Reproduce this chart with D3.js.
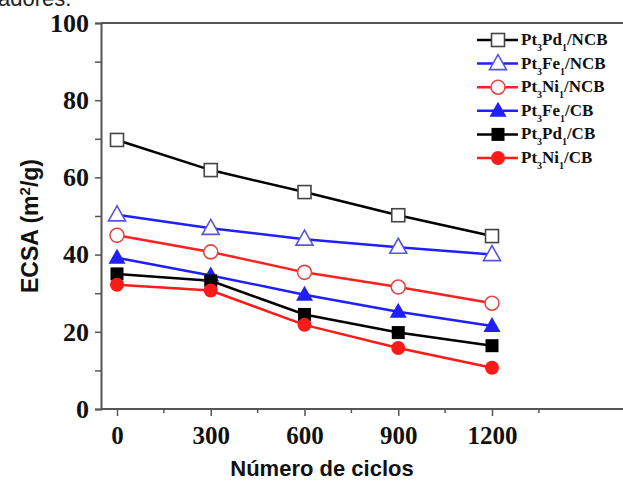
<!DOCTYPE html>
<html><head><meta charset="utf-8">
<script src="https://cdn.jsdelivr.net/npm/d3@7"></script>
<style>html,body{margin:0;padding:0;background:#fff;}svg{display:block;}</style>
</head><body>
<script>
const cycles = [0, 300, 600, 900, 1200];
const seriesNames = ["Pt3Pd1/NCB","Pt3Fe1/NCB","Pt3Ni1/NCB","Pt3Fe1/CB","Pt3Pd1/CB","Pt3Ni1/CB"];
const pd_ncb = [69.7, 61.9, 56.2, 50.2, 44.8];
const fe_ncb = [50.3, 46.8, 44.0, 41.9, 40.0];
const ni_ncb = [45.0, 40.7, 35.4, 31.6, 27.4];
const fe_cb  = [39.2, 34.6, 29.6, 25.2, 21.5];
const pd_cb  = [35.0, 33.2, 24.5, 19.8, 16.4];
const ni_cb  = [32.2, 30.7, 21.8, 15.8, 10.7];
const yTicks = [0, 20, 40, 60, 80, 100];
const xTicks = [0, 300, 600, 900, 1200];

const W = 623, H = 484;
const svg = d3.select("body").append("svg").attr("width", W).attr("height", H);

// partial document text at top
svg.append("text").attr("x", -2).attr("y", 6).attr("font-family","Liberation Sans, Arial, sans-serif")
  .attr("font-size", 22).attr("fill","#222").text("adores.");

const x = d3.scaleLinear().domain([-51.2, 1619.2]).range([101, 623]);
const y = d3.scaleLinear().domain([0, 100]).range([409, 23]);

const axisColor = "#555";
svg.append("line").attr("x1", x.range()[0]).attr("x2", W).attr("y1", y(100)).attr("y2", y(100))
  .attr("stroke", axisColor).attr("stroke-width", 2);

// Y axis
const yAxis = d3.axisLeft(y).tickValues(d3.range(0, 101, 10)).tickSize(6).tickFormat(d => yTicks.includes(d) ? d : "");
const gy = svg.append("g").attr("transform", `translate(${x.range()[0]},0)`).call(yAxis);
gy.select(".domain").attr("stroke", axisColor).attr("stroke-width", 2);
gy.selectAll(".tick line").attr("stroke", axisColor).attr("stroke-width", 1.5);
gy.selectAll(".tick text").attr("font-family","Liberation Serif, Times New Roman, serif").attr("font-weight","bold")
  .attr("font-size", 26).attr("fill","#111").attr("x", -12);

// X axis
const minorX = [150, 450, 750, 1050, 1350];
const xAxis = d3.axisBottom(x).tickValues(xTicks).tickSize(7).tickFormat(d3.format("d"));
const gx = svg.append("g").attr("transform", `translate(0,${y(0)})`).call(xAxis);
gx.select(".domain").attr("d", `M${x.range()[0]},0H${W}`).attr("stroke", axisColor).attr("stroke-width", 2);
gx.selectAll(".tick line").attr("stroke", axisColor).attr("stroke-width", 1.5);
gx.selectAll(".tick text").attr("font-family","Liberation Serif, Times New Roman, serif").attr("font-weight","bold")
  .attr("font-size", 25).attr("fill","#111").attr("y", 17);
gx.selectAll(".minor").data(minorX).enter().append("line").attr("class","minor")
  .attr("x1", d => x(d)).attr("x2", d => x(d)).attr("y1", 0).attr("y2", 4)
  .attr("stroke", axisColor).attr("stroke-width", 1.5);

// Axis titles
svg.append("text").attr("x", 322).attr("y", 476).attr("text-anchor","middle")
  .attr("font-family","Liberation Sans, Arial, sans-serif").attr("font-weight","bold").attr("font-size", 22)
  .attr("fill","#111").text("Número de ciclos");
const yt = svg.append("text").attr("transform","translate(38,226) rotate(-90)").attr("text-anchor","middle")
  .attr("font-family","Liberation Sans, Arial, sans-serif").attr("font-weight","bold").attr("font-size", 23)
  .attr("fill","#111");
yt.append("tspan").text("ECSA (m");
yt.append("tspan").attr("font-size", 15).attr("dy", -8).text("2");
yt.append("tspan").attr("dy", 8).text("/g)");

const series = [
  {name: seriesNames[0], values: pd_ncb, color:"#000", shape:"square", fill:false, stroke:"#444"},
  {name: seriesNames[1], values: fe_ncb, color:"#1f1fff", shape:"triangle", fill:false, stroke:"#5555dd"},
  {name: seriesNames[2], values: ni_ncb, color:"#ff2020", shape:"circle", fill:false, stroke:"#e04848"},
  {name: seriesNames[3], values: fe_cb, color:"#1f1fff", shape:"triangle", fill:true},
  {name: seriesNames[4], values: pd_cb, color:"#000", shape:"square", fill:true},
  {name: seriesNames[5], values: ni_cb, color:"#ff1a1a", shape:"circle", fill:true}
];

function drawMarker(g, s, cx, cy) {
  const fill = s.fill ? s.color : "#fff";
  const stroke = s.fill ? s.color : s.stroke;
  const sw = s.fill ? 0 : 1.6;
  if (s.shape === "square") {
    const h = 6.5;
    g.append("rect").attr("x", cx - h).attr("y", cy - h).attr("width", 2*h).attr("height", 2*h)
      .attr("fill", fill).attr("stroke", stroke).attr("stroke-width", sw);
  } else if (s.shape === "triangle") {
    g.append("path").attr("d", `M${cx},${cy-9}L${cx+8.5},${cy+6}L${cx-8.5},${cy+6}Z`)
      .attr("fill", fill).attr("stroke", stroke).attr("stroke-width", sw);
  } else {
    g.append("circle").attr("cx", cx).attr("cy", cy).attr("r", 7)
      .attr("fill", fill).attr("stroke", stroke).attr("stroke-width", sw);
  }
}

const line = d3.line().x((d,i) => x(cycles[i])).y(d => y(d));
const drawOrder = [3, 4, 5, 2, 1, 0];
drawOrder.forEach(k => {
  const s = series[k];
  svg.append("path").attr("d", line(s.values)).attr("fill","none").attr("stroke", s.color).attr("stroke-width", 2.5);
});
drawOrder.forEach(k => {
  const s = series[k];
  const g = svg.append("g");
  s.values.forEach((v, i) => drawMarker(g, s, x(cycles[i]), y(v)));
});

// Legend
const legY0 = 40, legDY = 23.6;
series.forEach((s, i) => {
  const ly = legY0 + i * legDY;
  const g = svg.append("g");
  g.append("line").attr("x1", 477).attr("x2", 518).attr("y1", ly).attr("y2", ly).attr("stroke", s.color).attr("stroke-width", 2.5);
  drawMarker(g, s, 498, ly);
  const m = s.name.match(/^Pt(\d)([A-Z][a-z])(\d)(\/.*)$/);
  const t = g.append("text").attr("x", 521).attr("y", ly + 5)
    .attr("font-family","Liberation Serif, Times New Roman, serif").attr("font-weight","bold").attr("font-size", 17).attr("fill","#111");
  t.append("tspan").text("Pt");
  t.append("tspan").attr("font-size", 10).attr("dy", 6).text(m[1]);
  t.append("tspan").attr("dy", -6).text(m[2]);
  t.append("tspan").attr("font-size", 10).attr("dy", 6).text(m[3]);
  t.append("tspan").attr("dy", -6).text(m[4]);
});
</script>
</body></html>
